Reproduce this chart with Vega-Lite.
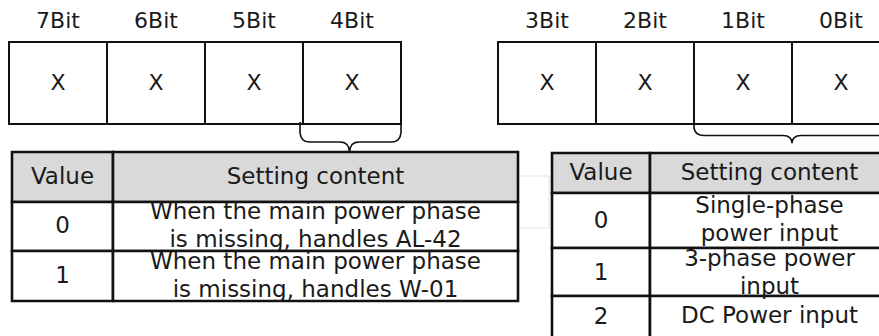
{
  "$schema": "https://vega.github.io/schema/vega-lite/v6.json",
  "width": 879,
  "height": 336,
  "autosize": {"type": "fit", "contains": "padding"},
  "padding": 0,
  "background": "#ffffff",
  "config": {"view": {"stroke": null}},
  "datasets": {
    "bits": [
      {"label": "7Bit", "x0": 9, "x1": 107, "xc": 58, "y0": 42, "y1": 124, "yl": 20.5, "ym": 83, "value": "X"},
      {"label": "6Bit", "x0": 107, "x1": 205, "xc": 156, "y0": 42, "y1": 124, "yl": 20.5, "ym": 83, "value": "X"},
      {"label": "5Bit", "x0": 205, "x1": 303, "xc": 254, "y0": 42, "y1": 124, "yl": 20.5, "ym": 83, "value": "X"},
      {"label": "4Bit", "x0": 303, "x1": 401, "xc": 352, "y0": 42, "y1": 124, "yl": 20.5, "ym": 83, "value": "X"},
      {"label": "3Bit", "x0": 498, "x1": 596, "xc": 547, "y0": 42, "y1": 124, "yl": 20.5, "ym": 83, "value": "X"},
      {"label": "2Bit", "x0": 596, "x1": 694, "xc": 645, "y0": 42, "y1": 124, "yl": 20.5, "ym": 83, "value": "X"},
      {"label": "1Bit", "x0": 694, "x1": 792, "xc": 743, "y0": 42, "y1": 124, "yl": 20.5, "ym": 83, "value": "X"},
      {"label": "0Bit", "x0": 792, "x1": 890, "xc": 841, "y0": 42, "y1": 124, "yl": 20.5, "ym": 83, "value": "X"}
    ],
    "cells": [
      {"table": "bit4", "role": "header", "x0": 12, "x1": 113, "y0": 152, "y1": 202, "xc": 62.5, "yt": 177, "text": "Value"},
      {"table": "bit4", "role": "header", "x0": 113, "x1": 518, "y0": 152, "y1": 202, "xc": 315.5, "yt": 177, "text": "Setting content"},
      {"table": "bit4", "role": "body", "x0": 12, "x1": 113, "y0": 202, "y1": 251, "xc": 62.5, "yt": 226, "text": "0"},
      {"table": "bit4", "role": "body", "x0": 113, "x1": 518, "y0": 202, "y1": 251, "xc": 315.5, "yt": 212, "text": "When the main power phase\nis missing, handles AL-42"},
      {"table": "bit4", "role": "body", "x0": 12, "x1": 113, "y0": 251, "y1": 301, "xc": 62.5, "yt": 276, "text": "1"},
      {"table": "bit4", "role": "body", "x0": 113, "x1": 518, "y0": 251, "y1": 301, "xc": 315.5, "yt": 262, "text": "When the main power phase\nis missing, handles W-01"},
      {"table": "bit10", "role": "header", "x0": 552, "x1": 650, "y0": 153, "y1": 193, "xc": 601, "yt": 173, "text": "Value"},
      {"table": "bit10", "role": "header", "x0": 650, "x1": 889, "y0": 153, "y1": 193, "xc": 769.5, "yt": 173, "text": "Setting content"},
      {"table": "bit10", "role": "body", "x0": 552, "x1": 650, "y0": 193, "y1": 248, "xc": 601, "yt": 220.5, "text": "0"},
      {"table": "bit10", "role": "body", "x0": 650, "x1": 889, "y0": 193, "y1": 248, "xc": 769.5, "yt": 206, "text": "Single-phase\npower input"},
      {"table": "bit10", "role": "body", "x0": 552, "x1": 650, "y0": 248, "y1": 296, "xc": 601, "yt": 273, "text": "1"},
      {"table": "bit10", "role": "body", "x0": 650, "x1": 889, "y0": 248, "y1": 296, "xc": 769.5, "yt": 259, "text": "3-phase power\ninput"},
      {"table": "bit10", "role": "body", "x0": 552, "x1": 650, "y0": 296, "y1": 340, "xc": 601, "yt": 317, "text": "2"},
      {"table": "bit10", "role": "body", "x0": 650, "x1": 889, "y0": 296, "y1": 340, "xc": 769.5, "yt": 316, "text": "DC Power input"}
    ],
    "ghost": [
      {"x0": 518, "x1": 549, "y0": 176, "y1": 228}
    ],
    "braces": [
      {"brace": "bit4", "i": 0, "x": 300, "y": 122},
      {"brace": "bit4", "i": 1, "x": 300, "y": 133},
      {"brace": "bit4", "i": 2, "x": 301, "y": 137},
      {"brace": "bit4", "i": 3, "x": 303, "y": 140},
      {"brace": "bit4", "i": 4, "x": 306, "y": 141.5},
      {"brace": "bit4", "i": 5, "x": 310, "y": 142},
      {"brace": "bit4", "i": 6, "x": 340, "y": 142},
      {"brace": "bit4", "i": 7, "x": 344, "y": 142.6},
      {"brace": "bit4", "i": 8, "x": 347, "y": 144.5},
      {"brace": "bit4", "i": 9, "x": 348.8, "y": 148},
      {"brace": "bit4", "i": 10, "x": 349.5, "y": 153},
      {"brace": "bit4", "i": 11, "x": 350.2, "y": 148},
      {"brace": "bit4", "i": 12, "x": 352, "y": 144.5},
      {"brace": "bit4", "i": 13, "x": 355, "y": 142.6},
      {"brace": "bit4", "i": 14, "x": 359, "y": 142},
      {"brace": "bit4", "i": 15, "x": 391, "y": 142},
      {"brace": "bit4", "i": 16, "x": 395, "y": 141.5},
      {"brace": "bit4", "i": 17, "x": 398, "y": 140},
      {"brace": "bit4", "i": 18, "x": 400, "y": 137},
      {"brace": "bit4", "i": 19, "x": 401, "y": 133},
      {"brace": "bit4", "i": 20, "x": 401, "y": 122},
      {"brace": "bit10", "i": 0, "x": 694, "y": 124},
      {"brace": "bit10", "i": 1, "x": 694, "y": 128},
      {"brace": "bit10", "i": 2, "x": 695, "y": 131},
      {"brace": "bit10", "i": 3, "x": 697, "y": 133.5},
      {"brace": "bit10", "i": 4, "x": 700, "y": 135},
      {"brace": "bit10", "i": 5, "x": 704, "y": 135.5},
      {"brace": "bit10", "i": 6, "x": 783, "y": 135.5},
      {"brace": "bit10", "i": 7, "x": 787, "y": 136},
      {"brace": "bit10", "i": 8, "x": 790, "y": 137.8},
      {"brace": "bit10", "i": 9, "x": 791.5, "y": 140.3},
      {"brace": "bit10", "i": 10, "x": 792, "y": 143},
      {"brace": "bit10", "i": 11, "x": 792.5, "y": 140.3},
      {"brace": "bit10", "i": 12, "x": 794, "y": 137.8},
      {"brace": "bit10", "i": 13, "x": 797, "y": 136},
      {"brace": "bit10", "i": 14, "x": 801, "y": 135.5},
      {"brace": "bit10", "i": 15, "x": 880, "y": 135.5},
      {"brace": "bit10", "i": 16, "x": 884, "y": 135},
      {"brace": "bit10", "i": 17, "x": 887, "y": 133.5},
      {"brace": "bit10", "i": 18, "x": 889, "y": 131},
      {"brace": "bit10", "i": 19, "x": 890, "y": 128},
      {"brace": "bit10", "i": 20, "x": 890, "y": 124}
    ]
  },
  "layer": [
    {
      "data": {"name": "ghost"},
      "mark": {"type": "rect", "fill": null, "fillOpacity": 0, "stroke": "#e3e3e3", "strokeWidth": 1, "clip": true},
      "encoding": {
        "x": {"field": "x0", "type": "quantitative", "scale": {"domain": [0, 879], "nice": false, "zero": false}, "axis": null},
        "x2": {"field": "x1"},
        "y": {"field": "y0", "type": "quantitative", "scale": {"domain": [0, 336], "reverse": true, "nice": false, "zero": false}, "axis": null},
        "y2": {"field": "y1"}
      }
    },
    {
      "data": {"name": "bits"},
      "mark": {"type": "rect", "fill": "#ffffff", "stroke": "#111111", "strokeWidth": 2, "clip": true},
      "encoding": {
        "x": {"field": "x0", "type": "quantitative"},
        "x2": {"field": "x1"},
        "y": {"field": "y0", "type": "quantitative"},
        "y2": {"field": "y1"}
      }
    },
    {
      "data": {"name": "cells"},
      "mark": {"type": "rect", "stroke": "#111111", "strokeWidth": 2.6, "clip": true},
      "encoding": {
        "x": {"field": "x0", "type": "quantitative"},
        "x2": {"field": "x1"},
        "y": {"field": "y0", "type": "quantitative"},
        "y2": {"field": "y1"},
        "fill": {"field": "role", "type": "nominal", "scale": {"domain": ["header", "body"], "range": ["#d9d9d9", "#ffffff"]}, "legend": null}
      }
    },
    {
      "data": {"name": "braces"},
      "mark": {"type": "line", "stroke": "#111111", "strokeWidth": 1.6, "interpolate": "linear", "clip": true},
      "encoding": {
        "x": {"field": "x", "type": "quantitative"},
        "y": {"field": "y", "type": "quantitative"},
        "detail": {"field": "brace", "type": "nominal"},
        "order": {"field": "i", "type": "quantitative"}
      }
    },
    {
      "data": {"name": "bits"},
      "mark": {"type": "text", "font": "DejaVu Sans", "fontSize": 22, "color": "#1a1a1a", "align": "center", "baseline": "middle", "clip": true},
      "encoding": {
        "x": {"field": "xc", "type": "quantitative"},
        "y": {"field": "yl", "type": "quantitative"},
        "text": {"field": "label", "type": "nominal"}
      }
    },
    {
      "data": {"name": "bits"},
      "mark": {"type": "text", "font": "DejaVu Sans", "fontSize": 22, "color": "#1a1a1a", "align": "center", "baseline": "middle", "clip": true},
      "encoding": {
        "x": {"field": "xc", "type": "quantitative"},
        "y": {"field": "ym", "type": "quantitative"},
        "text": {"field": "value", "type": "nominal"}
      }
    },
    {
      "data": {"name": "cells"},
      "mark": {"type": "text", "font": "DejaVu Sans", "fontSize": 23, "color": "#1a1a1a", "align": "center", "baseline": "middle", "lineBreak": "\n", "lineHeight": 28, "clip": true},
      "encoding": {
        "x": {"field": "xc", "type": "quantitative"},
        "y": {"field": "yt", "type": "quantitative"},
        "text": {"field": "text", "type": "nominal"}
      }
    }
  ]
}
